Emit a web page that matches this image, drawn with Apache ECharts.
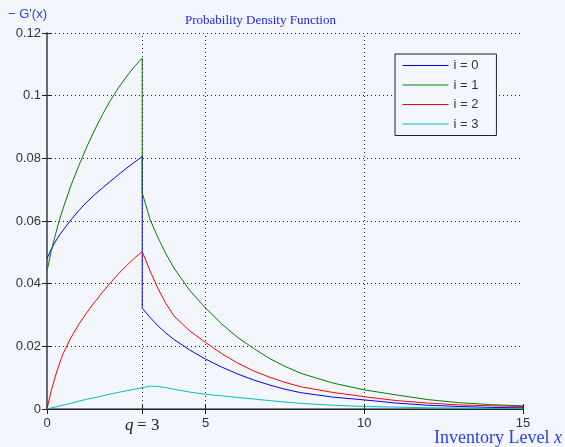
<!DOCTYPE html>
<html>
<head>
<meta charset="utf-8">
<title>Probability Density Function</title>
<script src="https://cdn.jsdelivr.net/npm/echarts@6/dist/echarts.min.js"></script>
<style>
  html, body { margin: 0; padding: 0; background: #F3F7FD; }
  #chart { width: 565px; height: 447px; }
</style>
</head>
<body>
<div id="chart"></div>
<script>
// Inventory levels: rising branch up to the order quantity q = 3, then the decaying branch.
const xRise = [0, 0.125, 0.25, 0.375, 0.5, 0.75, 1, 1.25, 1.5, 1.75, 2, 2.25, 2.5, 2.75, 3];
const xFall = [3, 3.25, 3.5, 3.75, 4, 4.5, 5, 5.5, 6, 6.5, 7, 7.5, 8, 9, 10, 11, 12, 13, 14, 15];

// -G'(x) for each state i
const i0Rise = [0.0480, 0.0508, 0.0532, 0.0552, 0.0570, 0.0603, 0.0633, 0.0660, 0.0684, 0.0706, 0.0727, 0.0748, 0.0768, 0.0787, 0.0806];
const i0Fall = [0.0322, 0.0292, 0.0265, 0.0242, 0.0222, 0.0188, 0.0159, 0.0134, 0.0112, 0.0093, 0.0077, 0.0063, 0.0052, 0.0038, 0.0029, 0.0019, 0.0012, 0.0008, 0.0005, 0.0004];

const i1Rise = [0.0440, 0.0500, 0.0550, 0.0598, 0.0638, 0.0712, 0.0776, 0.0836, 0.0890, 0.0940, 0.0985, 0.1025, 0.1060, 0.1092, 0.1120];
const i1Fall = [0.0690, 0.0604, 0.0546, 0.0495, 0.0450, 0.0378, 0.0322, 0.0272, 0.0229, 0.0194, 0.0162, 0.0136, 0.0114, 0.0083, 0.0061, 0.0045, 0.0030, 0.0020, 0.0014, 0.0010];

const i2Rise = [0, 0.0055, 0.0100, 0.0140, 0.0175, 0.0227, 0.0270, 0.0307, 0.0341, 0.0373, 0.0403, 0.0431, 0.0457, 0.0481, 0.0503];
const i2Fall = [0.0503, 0.0440, 0.0384, 0.0336, 0.0297, 0.0249, 0.0212, 0.0177, 0.0147, 0.0122, 0.0102, 0.0085, 0.0071, 0.0053, 0.0039, 0.0027, 0.0019, 0.0013, 0.0010, 0.0008];

const i3Rise = [0, 0.0003, 0.0006, 0.0009, 0.0012, 0.0018, 0.0025, 0.0031, 0.0036, 0.0042, 0.0048, 0.0053, 0.0058, 0.0063, 0.0068];
const i3Fall = [0.0071, 0.0073, 0.0072, 0.0068, 0.0063, 0.0054, 0.0047, 0.0042, 0.0037, 0.0032, 0.0027, 0.0022, 0.0018, 0.0012, 0.0008, 0.0006, 0.0004, 0.0003, 0.0002, 0.0002];

const seriesNames = ['i = 0', 'i = 1', 'i = 2', 'i = 3'];
const seriesColors = ['#0000FF', '#008000', '#FF0000', '#00BFBF'];

const xTicks = [0, 3, 5, 10, 15];
const xGrid = [3, 5, 10];

function pairs(rise, fall) {
  const out = [];
  xRise.forEach((x, k) => out.push([x, rise[k]]));
  xFall.forEach((x, k) => out.push([x, fall[k]]));
  return out;
}

const curves = [
  pairs(i0Rise, i0Fall),
  pairs(i1Rise, i1Fall),
  pairs(i2Rise, i2Fall),
  pairs(i3Rise, i3Fall)
];

const BG = '#F3F7FD';
const AXIS = '#606060';
const dotted = { type: [1, 3], color: '#222', width: 1 };

const chart = echarts.init(document.getElementById('chart'), null, { renderer: 'canvas' });

const series = curves.map((data, k) => ({
  name: seriesNames[k],
  type: 'line',
  data: data,
  xAxisIndex: 0,
  yAxisIndex: 0,
  symbol: 'none',
  showSymbol: false,
  color: seriesColors[k],
  lineStyle: { color: seriesColors[k], width: 1 },
  itemStyle: { color: seriesColors[k] },
  z: 3 + k
}));

// Vertical dotted grid lines at the labelled x ticks
series.push({
  name: 'xgrid',
  type: 'line',
  data: [],
  xAxisIndex: 0,
  yAxisIndex: 0,
  symbol: 'none',
  silent: true,
  z: 1,
  markLine: {
    silent: true,
    symbol: 'none',
    label: { show: false },
    lineStyle: dotted,
    data: xGrid.map(v => ({ xAxis: v }))
  }
});

chart.setOption({
  animation: false,
  backgroundColor: BG,
  title: {
    text: 'Probability Density Function',
    left: 180,
    top: 9,
    textStyle: {
      fontFamily: 'Liberation Serif',
      fontWeight: 'normal',
      fontSize: 13,
      color: '#2424F0'
    }
  },
  legend: {
    orient: 'vertical',
    left: 395,
    top: 54,
    padding: [5, 18, 5, 7],
    itemWidth: 46,
    itemHeight: 14,
    itemGap: 6.5,
    backgroundColor: BG,
    borderColor: '#222',
    borderWidth: 1,
    itemStyle: { opacity: 0 },
    textStyle: { fontFamily: 'Liberation Sans', fontSize: 13, color: '#333' },
    data: seriesNames.map((n, k) => ({
      name: n,
      lineStyle: { color: seriesColors[k], width: 1 }
    }))
  },
  grid: { left: 47, top: 33, right: 42, bottom: 38, containLabel: false },
  xAxis: [
    {
      type: 'value',
      position: 'bottom',
      min: 0,
      max: 15,
      axisLine: { show: true, lineStyle: { color: AXIS, width: 1.5 } },
      axisTick: { show: true, inside: true, length: 5, customValues: xTicks, lineStyle: { color: '#222' } },
      axisLabel: {
        customValues: xTicks,
        margin: 8,
        fontFamily: 'Liberation Sans',
        fontSize: 13,
        color: '#333',
        formatter: v => (v === 3 ? '{q|q} {s|= 3}' : String(v)),
        rich: {
          q: { fontFamily: 'Liberation Serif', fontStyle: 'italic', fontSize: 17, color: '#222' },
          s: { fontFamily: 'Liberation Serif', fontSize: 17, color: '#222' }
        }
      },
      splitLine: { show: false }
    },
    {
      type: 'value',
      position: 'top',
      min: 0,
      max: 15,
      axisLine: { show: true, lineStyle: { color: '#222', width: 1 } },
      axisTick: { show: true, inside: true, length: 5, customValues: xTicks, lineStyle: { color: '#222' } },
      axisLabel: { show: false },
      splitLine: { show: false }
    }
  ],
  yAxis: [
    {
      type: 'value',
      position: 'left',
      min: 0,
      max: 0.12,
      interval: 0.02,
      name: '\u2212 G\'(x)',
      nameLocation: 'end',
      nameGap: 12,
      nameTextStyle: {
        fontFamily: 'Liberation Sans',
        fontSize: 13,
        color: '#2840F0',
        align: 'right',
        verticalAlign: 'bottom'
      },
      axisLine: { show: true, lineStyle: { color: AXIS, width: 1.5 } },
      axisTick: { show: true, inside: true, length: 5, lineStyle: { color: '#222' } },
      axisLabel: {
        margin: 6,
        fontFamily: 'Liberation Sans',
        fontSize: 13,
        color: '#333',
        formatter: v => (v === 0 ? '0' : String(Math.round(v * 100) / 100))
      },
      splitLine: { show: true, lineStyle: dotted }
    },
    {
      type: 'value',
      position: 'right',
      min: 0,
      max: 0.12,
      interval: 0.02,
      axisLine: { show: true, lineStyle: { color: AXIS, width: 1.5 } },
      axisTick: { show: true, inside: true, length: 5, lineStyle: { color: '#222' } },
      axisLabel: { show: false },
      splitLine: { show: false }
    }
  ],
  graphic: [
    {
      type: 'text',
      right: 3,
      top: 429,
      style: {
        text: '{a|Inventory Level }{b|x}',
        rich: {
          a: { fontFamily: 'Liberation Serif', fontSize: 18, fill: '#2840F0' },
          b: { fontFamily: 'Liberation Serif', fontStyle: 'italic', fontSize: 18, fill: '#2840F0' }
        }
      }
    }
  ],
  series: series
});
</script>
</body>
</html>
